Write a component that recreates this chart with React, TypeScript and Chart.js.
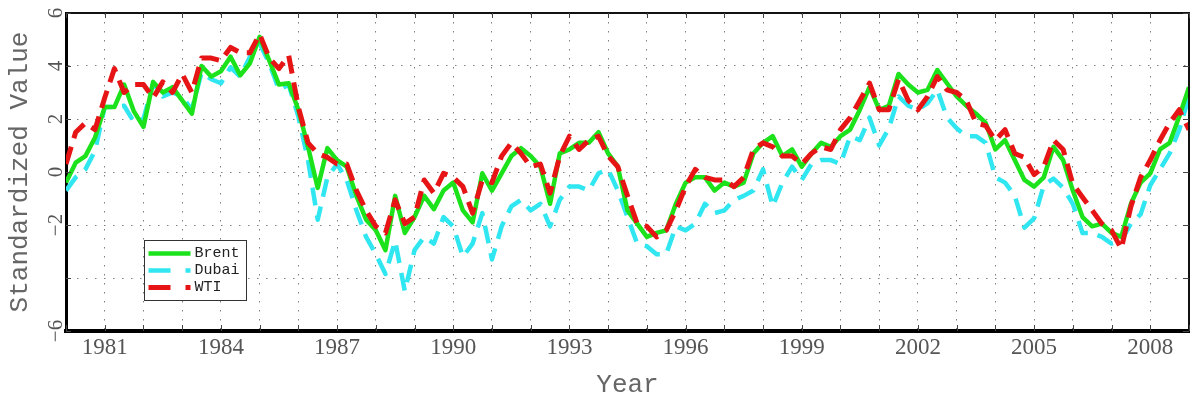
import React, { useEffect, useRef } from 'react';
import { Chart, registerables } from 'chart.js';

Chart.register(...registerables);

// Quarterly standardized values, 1980.00 .. 2009.00
const startYear = 1980;
const pointsPerYear = 4;

const brent = [
  -0.4, 0.35, 0.6, 1.3,
  2.45, 2.45, 3.3, 2.3,
  1.7, 3.4, 3.0, 3.2,
  2.7, 2.2, 4.0, 3.6,
  3.8, 4.35, 3.65, 4.1,
  5.1, 4.2, 3.3, 3.35,
  2.35, 0.95, -0.6, 0.9,
  0.45, 0.2, -0.9, -1.8,
  -2.2, -2.95, -0.9, -2.3,
  -1.7, -0.9, -1.4, -0.7,
  -0.4, -1.45, -1.9, -0.05,
  -0.7, -0.05, 0.6, 0.9,
  0.6, 0.2, -1.2, 0.7,
  0.85, 1.1, 1.1, 1.5,
  0.7, 0.2, -1.45, -1.95,
  -2.45, -2.3, -2.2, -1.2,
  -0.4, -0.2, -0.2, -0.7,
  -0.4, -0.55, -0.4, 0.7,
  1.1, 1.35, 0.6, 0.85,
  0.2, 0.7, 1.1, 0.95,
  1.35, 1.6, 2.35, 3.2,
  2.35, 2.5, 3.7, 3.3,
  3.0, 3.1, 3.85, 3.35,
  2.85, 2.5, 2.2, 1.85,
  0.85, 1.2, 0.45, -0.3,
  -0.55, -0.2, 0.95, 0.45,
  -0.7, -1.7, -2.05, -1.95,
  -2.3, -2.45, -1.2, -0.4,
  -0.05, 0.85, 1.1, 2.1,
  3.2,
];

const dubai = [
  -0.7, -0.2, 0.1, 0.8,
  2.45, 2.45, 2.5, 1.9,
  2.0, 3.35, 2.85, 3.0,
  2.85, 2.35, 3.75, 3.5,
  3.35, 3.95, 3.6, 4.35,
  4.85, 4.1, 3.1, 3.3,
  2.1, 0.45, -1.8, -0.2,
  0.3, -0.3, -1.45, -2.45,
  -3.1, -3.85, -2.6, -4.5,
  -2.95, -2.45, -2.7, -1.7,
  -2.05, -3.2, -2.7, -1.55,
  -3.3, -2.05, -1.3, -1.05,
  -1.45, -1.2, -2.05, -1.05,
  -0.55, -0.55, -0.7, -0.05,
  0.1, -0.7, -1.7, -2.7,
  -2.8, -3.1, -3.1, -2.05,
  -2.2, -1.95, -1.2, -1.55,
  -1.45, -1.05, -0.9, -0.7,
  0.1, -1.3, -0.4, 0.2,
  -0.3, 0.3, 0.45, 0.45,
  0.3, 1.35, 1.2, 2.05,
  1.0, 1.65, 2.85, 2.5,
  2.35, 2.6, 3.1, 2.05,
  1.65, 1.35, 1.35, 1.1,
  -0.2, -0.4, -0.9, -2.1,
  -1.75, -0.5, -0.25, -0.6,
  -1.2, -2.3, -2.3, -2.45,
  -2.7, -2.6, -1.95, -1.6,
  -0.5, 0.1, 0.7, 1.6,
  2.85,
];

const wti = [
  0.3, 1.5, 1.85, 1.6,
  2.8, 3.9, 3.0, 3.3,
  3.3, 2.8, 3.4, 3.0,
  3.7, 3.0, 4.3, 4.3,
  4.2, 4.7, 4.5, 4.5,
  5.2, 4.3, 3.9, 4.4,
  2.45, 1.1, 0.7, 0.55,
  0.3, 0.3, -0.7, -1.45,
  -2.05, -2.3, -1.05, -1.95,
  -1.7, -0.3, -0.8, -0.05,
  -0.2, -0.55, -1.55, -0.3,
  -0.4, 0.6, 1.1, 0.7,
  0.2, 0.3, -0.8, 0.6,
  1.35, 0.85, 1.2, 1.35,
  0.6, 0.2, -0.9, -1.95,
  -2.05, -2.45, -2.2, -1.45,
  -0.55, 0.1, -0.2, -0.3,
  -0.3, -0.55, -0.2, 0.85,
  1.1, 0.95, 0.6, 0.6,
  0.3, 0.7, 0.95, 0.85,
  1.6, 2.05, 2.7, 3.35,
  2.35, 2.35, 3.5, 2.7,
  2.35, 2.85, 3.6, 3.1,
  3.0, 2.7, 1.85, 1.75,
  1.2, 1.6, 0.7, 0.55,
  -0.1, 0.2, 1.2, 0.85,
  -0.45, -0.95, -1.45, -1.95,
  -2.2, -2.9, -1.3, -0.2,
  0.45, 1.2, 1.85, 2.35,
  1.6,
];

const times = brent.map((_, i) => startYear + i / pointsPerYear);

const xTickLabels = ['1981', '1984', '1987', '1990', '1993', '1996', '1999', '2002', '2005', '2008'];
const yTickValues = [-6, -4, -2, 0, 2, 4, 6];
const yTickLabels = ['\u22126', '', '\u22122', '0', '2', '4', '6'];

const seriesNames = ['Brent', 'Dubai', 'WTI'];
const seriesColors = ['#1be21b', '#30e6f0', '#e61414'];

const framePlugin = {
  id: 'frameAndLegend',
  afterDraw(chart: any) {
    const { ctx, chartArea: a, scales } = chart;
    ctx.save();
    // top and right frame
    ctx.strokeStyle = '#111';
    ctx.lineWidth = 2;
    ctx.setLineDash([]);
    ctx.beginPath();
    ctx.moveTo(a.left, a.top);
    ctx.lineTo(a.right, a.top);
    ctx.lineTo(a.right, a.bottom);
    ctx.stroke();
    // inner tick marks
    ctx.strokeStyle = '#444';
    ctx.lineWidth = 1;
    ctx.beginPath();
    scales.x.ticks.forEach((t: any) => {
      const px = Math.round(scales.x.getPixelForValue(t.value)) + 0.5;
      ctx.moveTo(px, a.bottom);
      ctx.lineTo(px, a.bottom - 6);
      ctx.moveTo(px, a.top);
      ctx.lineTo(px, a.top + 5);
    });
    scales.y.ticks.forEach((t: any) => {
      const py = Math.round(scales.y.getPixelForValue(t.value)) + 0.5;
      ctx.moveTo(a.left, py);
      ctx.lineTo(a.left + 5, py);
      ctx.moveTo(a.right, py);
      ctx.lineTo(a.right - 6, py);
    });
    ctx.stroke();

    // legend box
    const bx = a.left + 78.5;
    const by = a.top + 227.5;
    const bw = 102;
    const bh = 60;
    ctx.fillStyle = '#ffffff';
    ctx.fillRect(bx, by, bw, bh);
    ctx.strokeStyle = '#333';
    ctx.lineWidth = 1;
    ctx.strokeRect(bx, by, bw, bh);
    const legendOrder = [0, 1, 2];
    legendOrder.forEach((di, row) => {
      const ds = chart.data.datasets[di];
      const y = by + 13 + row * 17;
      ctx.strokeStyle = ds.borderColor;
      ctx.lineWidth = ds.borderWidth;
      ctx.lineCap = 'butt';
      ctx.setLineDash(ds.borderDash ? [22, 15] : []);
      ctx.beginPath();
      ctx.moveTo(bx + 4, y);
      ctx.lineTo(bx + 46, y);
      ctx.stroke();
      ctx.setLineDash([]);
      ctx.fillStyle = '#222';
      ctx.font = '15px "Liberation Mono"';
      ctx.textBaseline = 'middle';
      ctx.textAlign = 'left';
      ctx.fillText(ds.label, bx + 50, y);
    });
    ctx.restore();
  },
};

export default function App() {
  const canvasRef = useRef<HTMLCanvasElement | null>(null);

  useEffect(() => {
    document.body.style.margin = '0';
    const canvas = canvasRef.current;
    if (!canvas) return;
    const chart = new Chart(canvas, {
      type: 'line',
      data: {
        labels: times,
        datasets: [
          {
            label: seriesNames[0],
            data: brent,
            borderColor: seriesColors[0],
            borderWidth: 4.5,
            pointRadius: 0,
            tension: 0,
            borderJoinStyle: 'round',
            order: 1,
          },
          {
            label: seriesNames[1],
            data: dubai,
            borderColor: seriesColors[1],
            borderWidth: 4.5,
            borderDash: [18, 10],
            pointRadius: 0,
            tension: 0,
            borderJoinStyle: 'round',
            order: 2,
          },
          {
            label: seriesNames[2],
            data: wti,
            borderColor: seriesColors[2],
            borderWidth: 5,
            borderDash: [18, 9],
            pointRadius: 0,
            tension: 0,
            borderJoinStyle: 'round',
            order: 0,
          },
        ],
      },
      options: {
        responsive: false,
        animation: false,
        devicePixelRatio: 1,
        layout: { padding: { top: 13, right: 5, left: 0, bottom: 0 } },
        plugins: {
          legend: { display: false },
          tooltip: { enabled: false },
        },
        scales: {
          x: {
            type: 'linear',
            min: 1980,
            max: 2009,
            ticks: {
              stepSize: 1,
              autoSkip: false,
              maxRotation: 0,
              minRotation: 0,
              padding: 3,
              color: '#555',
              font: { family: 'Liberation Serif', size: 23 },
              callback: (v: any) => (xTickLabels.includes(String(v)) ? String(v) : ''),
            },
            grid: { color: 'rgba(95,95,95,0.8)', lineWidth: 1, drawTicks: false },
            border: { display: true, color: '#000', width: 4, dash: [1.5, 7.5] },
            title: {
              display: true,
              text: 'Year',
              color: '#666',
              font: { family: 'Liberation Mono', size: 26 },
              padding: { top: 0, bottom: 1.5 },
            },
            afterFit: (s: any) => {
              s.height = 71;
            },
          },
          y: {
            type: 'linear',
            min: -6,
            max: 6,
            ticks: {
              stepSize: 2,
              autoSkip: false,
              minRotation: 90,
              maxRotation: 90,
              crossAlign: 'center',
              padding: -2,
              color: '#555',
              font: { family: 'Liberation Serif', size: 21 },
              callback: (v: any) => {
                const i = yTickValues.indexOf(Number(v));
                return i >= 0 ? yTickLabels[i] : '';
              },
            },
            grid: { color: 'rgba(95,95,95,0.8)', lineWidth: 1, drawTicks: false },
            border: { display: true, color: '#000', width: 3, dash: [1.5, 7.5] },
            title: {
              display: true,
              text: 'Standardized Value',
              color: '#666',
              font: { family: 'Liberation Mono', size: 26 },
              padding: { top: 4.5, bottom: 0 },
            },
            afterFit: (s: any) => {
              s.width = 66;
            },
          },
        },
      },
      plugins: [framePlugin],
    } as any);
    return () => chart.destroy();
  }, []);

  return (
    <div style={{ width: 1194, height: 402, position: 'relative' }}>
      <canvas ref={canvasRef} width={1194} height={402} style={{ display: 'block' }} />
    </div>
  );
}
